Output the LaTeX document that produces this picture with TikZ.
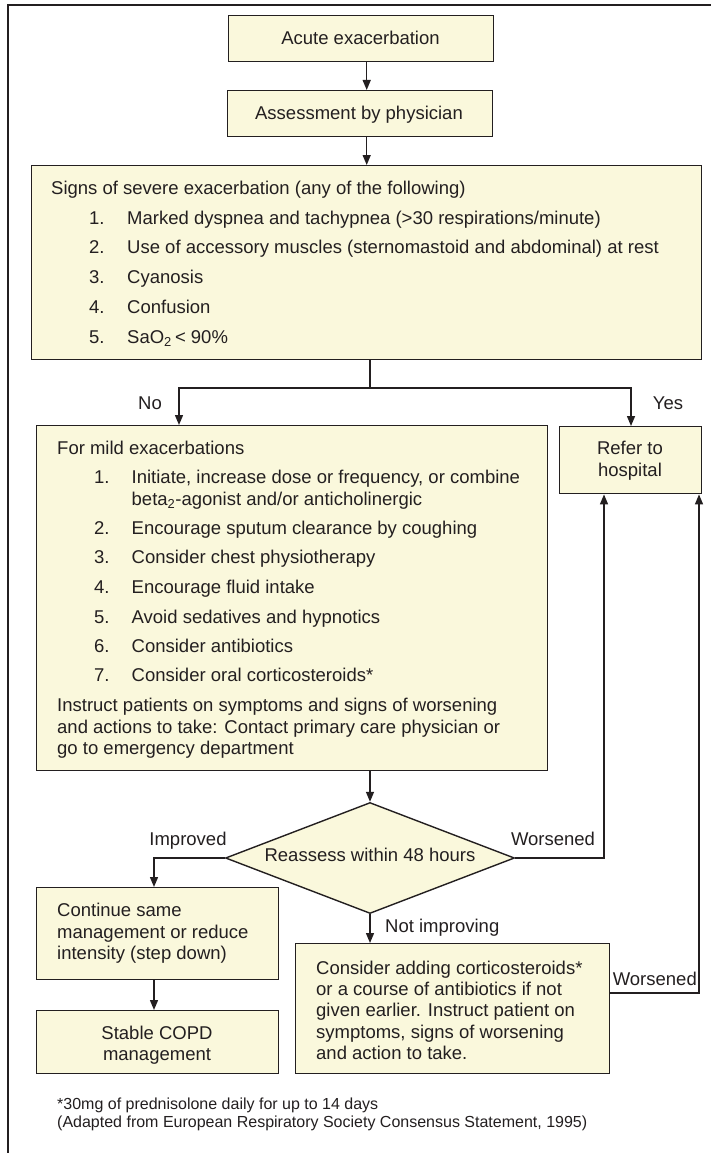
\documentclass[tikz,border=0pt]{standalone}
\usepackage{fontspec}
\setmainfont{Liberation Sans}
\usetikzlibrary{shapes.geometric,arrows.meta}
\definecolor{ink}{RGB}{35,31,32}
\definecolor{boxfill}{RGB}{250,248,220}
\begin{document}
\begin{tikzpicture}[x=1pt,y=-1pt,
  font=\fontsize{18.5}{22}\selectfont, text=ink,
  box/.style={draw=ink, line width=1.4pt, fill=boxfill, rectangle, inner sep=0pt, anchor=north west},
  txt/.style={inner sep=0pt, anchor=base west},
  ctxt/.style={inner sep=0pt, anchor=base},
  rtxt/.style={inner sep=0pt, anchor=base east},
  ln/.style={draw=ink, line width=1.4pt},
  arr/.style={draw=ink, line width=1.4pt, -{Triangle[length=10pt,width=8pt]}},
  note/.style={inner sep=0pt, anchor=base west, font=\fontsize{16}{19}\selectfont}]
\useasboundingbox (0,0) rectangle (711,1153);
\fill[white] (0,0) rectangle (711,1153);
% frame (top and left only)
\coordinate (ftl) at (8,5);
\coordinate (ftr) at (711,5);
\coordinate (fbl) at (8,1153);
\draw[ln, line width=1.6pt] (ftr) -- (ftl) -- (fbl);

% boxes
\node[box, minimum width=265, minimum height=46] (acute) at (228,15) {};
\node[box, minimum width=265, minimum height=46] (assess) at (227,90) {};
\node[box, minimum width=670, minimum height=194] (signs) at (31,165) {};
\node[box, minimum width=510.5, minimum height=345] (mild) at (36,425) {};
\node[box, minimum width=142, minimum height=67] (refer) at (559,426) {};
\node[draw=ink, line width=1.4pt, fill=boxfill, diamond, inner sep=0pt,
      minimum width=289, minimum height=111] (dia) at (370,858) {};
\node[box, minimum width=242, minimum height=92] (cont) at (36,887) {};
\node[box, minimum width=242, minimum height=63] (stable) at (36,1010) {};
\node[box, minimum width=313.6, minimum height=130] (cons) at (295,943) {};

% texts
\node[ctxt] (tacute) at (360.5,44.5) {Acute exacerbation};
\node[ctxt] (tassess) at (359,119.5) {Assessment by physician};

\node[txt] (s0) at (51,194.5) {Signs of severe exacerbation (any of the following)};
\node[txt] (s1n) at (89,224.2) {1.};
\node[txt] (s1) at (127,224.2) {Marked dyspnea and tachypnea (>30 respirations/minute)};
\node[txt] (s2n) at (89,253.9) {2.};
\node[txt] (s2) at (127,253.9) {Use of accessory muscles (sternomastoid and abdominal) at rest};
\node[txt] (s3n) at (89,283.6) {3.};
\node[txt] (s3) at (127,283.6) {Cyanosis};
\node[txt] (s4n) at (89,313.3) {4.};
\node[txt] (s4) at (127,313.3) {Confusion};
\node[txt] (s5n) at (89,343.0) {5.};
\node[txt] (s5) at (127,343.0) {SaO\textsubscript{2}\,< 90\%};

\node[txt] (m0) at (57,454.5) {For mild exacerbations};
\node[txt] (m1n) at (94,483.5) {1.};
\node[txt] (m1a) at (131.5,483.5) {Initiate, increase dose or frequency, or combine};
\node[txt] (m1b) at (131.5,505.5) {beta\textsubscript{2}-agonist and/or anticholinergic};
\node[txt] (m2n) at (94,534.5) {2.};
\node[txt] (m2) at (131.5,534.5) {Encourage sputum clearance by coughing};
\node[txt] (m3n) at (94,563.5) {3.};
\node[txt] (m3) at (131.5,563.5) {Consider chest physiotherapy};
\node[txt] (m4n) at (94,593.5) {4.};
\node[txt] (m4) at (131.5,593.5) {Encourage fluid intake};
\node[txt] (m5n) at (94,623.5) {5.};
\node[txt] (m5) at (131.5,623.5) {Avoid sedatives and hypnotics};
\node[txt] (m6n) at (94,652.5) {6.};
\node[txt] (m6) at (131.5,652.5) {Consider antibiotics};
\node[txt] (m7n) at (94,681.5) {7.};
\node[txt] (m7) at (131.5,681.5) {Consider oral corticosteroids*};
\node[txt] (mp1) at (57,711.5) {Instruct patients on symptoms and signs of worsening};
\node[txt] (mp2) at (57,733.5) {and actions to take: Contact primary care physician or};
\node[txt] (mp3) at (57,754.5) {go to emergency department};

\node[ctxt] (r1) at (630,454.5) {Refer to};
\node[ctxt] (r2) at (630,476.5) {hospital};

\node[ctxt] (tdia) at (370,861.5) {Reassess within 48 hours};

\node[txt] (c1) at (57,916.5) {Continue same};
\node[txt] (c2) at (57,938.5) {management or reduce};
\node[txt] (c3) at (57,959.5) {intensity (step down)};

\node[ctxt] (st1) at (157,1039.5) {Stable COPD};
\node[ctxt] (st2) at (157,1060.5) {management};

\node[txt] (k1) at (316,974.5) {Consider adding corticosteroids*};
\node[txt] (k2) at (316,995.5) {or a course of antibiotics if not};
\node[txt] (k3) at (316,1016.5) {given earlier. Instruct patient on};
\node[txt] (k4) at (316,1038.5) {symptoms, signs of worsening};
\node[txt] (k5) at (316,1059.5) {and action to take.};

% labels
\node[ctxt] (lno) at (150,409.5) {No};
\node[ctxt] (lyes) at (668,409.5) {Yes};
\node[ctxt] (limp) at (188,845.5) {Improved};
\node[ctxt] (lwor) at (553,845.5) {Worsened};
\node[txt] (lnot) at (385,932.5) {Not improving};
\node[rtxt] (lwor2) at (697,985.5) {Worsened};

\node[note] (f1) at (57,1109) {*30mg of prednisolone daily for up to 14 days};
\node[note] (f2) at (57,1127.5) {(Adapted from European Respiratory Society Consensus Statement, 1995)};

% connectors
\draw[arr] (acute.south -| signs.north) -- (assess.north -| signs.north);
\draw[arr] (assess.south -| signs.north) -- (signs.north);
\coordinate (split) at (370,388);
\coordinate (spl) at (179,388);
\coordinate (spr) at (631,388);
\draw[ln] (signs.south -| split) -- (split);
\draw[arr] (split) -- (spl) -- (spl |- mild.north);
\draw[arr] (split) -- (spr) -- (spr |- refer.north);
\draw[arr] (mild.south -| dia.north) -- (dia.north);
\coordinate (imp) at (154,858);
\draw[arr] (dia.west) -- (imp) -- (imp |- cont.north);
\draw[arr] (cont.south -| imp) -- (imp |- stable.north);
\coordinate (w1) at (604,858);
\draw[arr] (dia.east) -- (w1) -- (w1 |- refer.south);
\draw[arr] (dia.south) -- (dia.south |- cons.north);
\coordinate (w2) at (699,993);
\draw[arr] (cons.east |- w2) -- (w2) -- (w2 |- refer.south);
\end{tikzpicture}
\end{document}
